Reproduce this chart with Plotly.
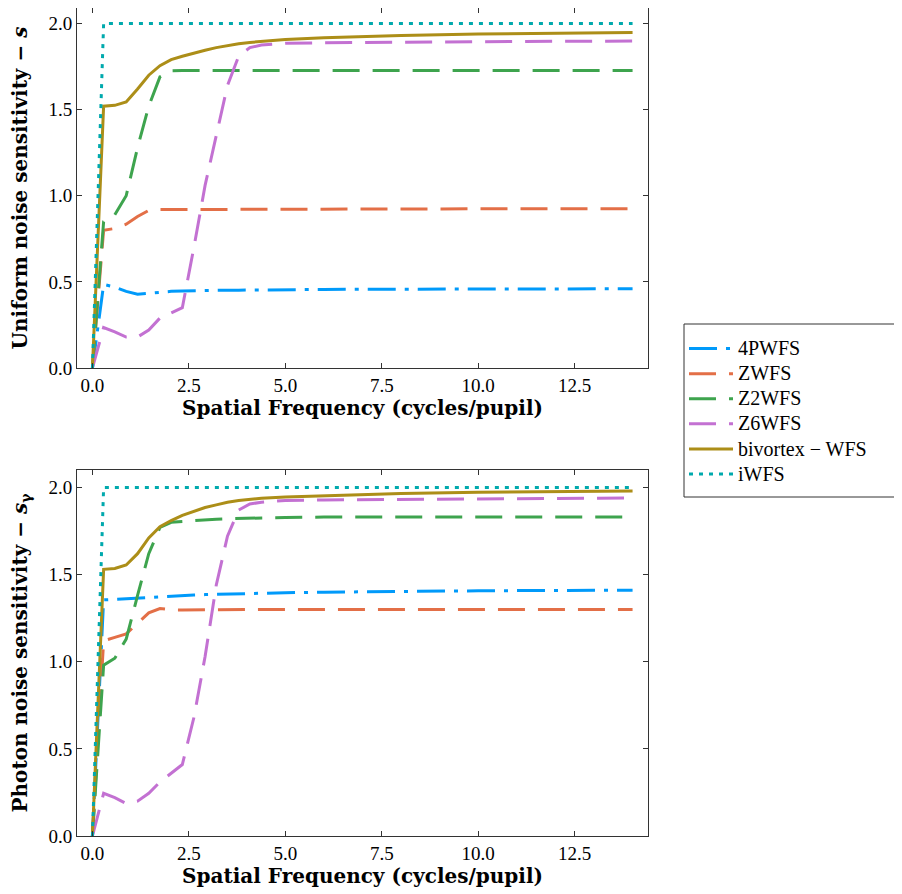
import plotly.graph_objects as go

# ---------------- data ----------------
freq = [0, 0.29, 0.58, 0.875, 1.17, 1.46, 1.75, 2.04, 2.33, 2.63, 2.92, 3.21, 3.5,
        3.79, 4.08, 4.38, 5.0, 6.0, 7.0, 8.0, 10.0, 12.0, 14.0]

series_names = ["4PWFS", "ZWFS", "Z2WFS", "Z6WFS", "bivortex − WFS", "iWFS"]

# Uniform noise sensitivity (top panel)
u_4p = [0, 0.485, 0.47, 0.445, 0.428, 0.435, 0.44, 0.445, 0.447, 0.449, 0.45, 0.451, 0.452,
        0.452, 0.453, 0.453, 0.455, 0.456, 0.457, 0.458, 0.459, 0.46, 0.46]
u_z = [0, 0.80, 0.81, 0.835, 0.88, 0.915, 0.92, 0.92, 0.92, 0.921, 0.921, 0.922, 0.922,
       0.922, 0.922, 0.923, 0.923, 0.923, 0.924, 0.924, 0.924, 0.925, 0.925]
u_z2 = [0, 0.85, 0.89, 1.0, 1.28, 1.52, 1.69, 1.725, 1.727, 1.727, 1.727, 1.727, 1.727,
        1.727, 1.727, 1.727, 1.727, 1.727, 1.727, 1.727, 1.727, 1.727, 1.727]
u_z6 = [0, 0.235, 0.21, 0.18, 0.18, 0.22, 0.29, 0.32, 0.35, 0.70, 1.06, 1.35, 1.64,
        1.81, 1.86, 1.875, 1.885, 1.888, 1.89, 1.892, 1.895, 1.897, 1.898]
u_bv = [0, 1.52, 1.525, 1.545, 1.62, 1.70, 1.755, 1.79, 1.81, 1.83, 1.845, 1.86, 1.872,
        1.882, 1.89, 1.896, 1.907, 1.918, 1.925, 1.931, 1.939, 1.944, 1.948]
u_i = [0, 2.0, 2.0, 2.0, 2.0, 2.0, 2.0, 2.0, 2.0, 2.0, 2.0, 2.0, 2.0,
       2.0, 2.0, 2.0, 2.0, 2.0, 2.0, 2.0, 2.0, 2.0, 2.0]

# Photon noise sensitivity (bottom panel)
p_4p = [0, 1.355, 1.358, 1.362, 1.366, 1.37, 1.375, 1.378, 1.381, 1.383, 1.385, 1.387, 1.389,
        1.39, 1.392, 1.393, 1.396, 1.399, 1.402, 1.404, 1.407, 1.409, 1.41]
p_z = [0, 1.12, 1.14, 1.16, 1.22, 1.28, 1.305, 1.298, 1.297, 1.298, 1.298, 1.299, 1.299,
       1.3, 1.3, 1.3, 1.3, 1.3, 1.3, 1.3, 1.3, 1.3, 1.3]
p_z2 = [0, 0.98, 1.02, 1.13, 1.38, 1.62, 1.77, 1.80, 1.805, 1.81, 1.815, 1.818, 1.82,
        1.822, 1.824, 1.826, 1.828, 1.83, 1.83, 1.83, 1.83, 1.83, 1.83]
p_z6 = [0, 0.245, 0.22, 0.186, 0.20, 0.245, 0.31, 0.36, 0.41, 0.68, 1.03, 1.44, 1.72,
        1.87, 1.905, 1.915, 1.925, 1.928, 1.93, 1.932, 1.935, 1.938, 1.94]
p_bv = [0, 1.53, 1.535, 1.555, 1.62, 1.71, 1.775, 1.81, 1.84, 1.865, 1.885, 1.90, 1.915,
        1.925, 1.932, 1.938, 1.945, 1.953, 1.96, 1.965, 1.972, 1.977, 1.98]
p_i = [0, 2.0, 2.0, 2.0, 2.0, 2.0, 2.0, 2.0, 2.0, 2.0, 2.0, 2.0, 2.0,
       2.0, 2.0, 2.0, 2.0, 2.0, 2.0, 2.0, 2.0, 2.0, 2.0]

x_tick_vals = [0, 2.5, 5, 7.5, 10, 12.5]
x_tick_text = ["0.0", "2.5", "5.0", "7.5", "10.0", "12.5"]
y_tick_vals = [0, 0.5, 1.0, 1.5, 2.0]
y_tick_text = ["0.0", "0.5", "1.0", "1.5", "2.0"]

# ---------------- styles ----------------
colors = ["#009AFA", "#E36F47", "#3EA44E", "#C371D2", "#AC8E18", "#00A9AD"]
dashes = ["28px,9px,4px,9px", "27px,13px", "27px,13px", "27px,13px", "solid", "4px,6px"]
LW = 3
FONT = "Liberation Serif"
TFONT = "DejaVu Serif"

# page body adds an 8px offset, so figure pixels = screen pixels - 8
W, H = 894, 886
L, R, T, B = 69, 640, 0, 828
top_axis_bottom = 360
bot_axis_top = 462

fig = go.Figure()

top = [u_4p, u_z, u_z2, u_z6, u_bv, u_i]
bot = [p_4p, p_z, p_z2, p_z6, p_bv, p_i]

for i, name in enumerate(series_names):
    fig.add_trace(go.Scatter(x=freq, y=top[i], mode="lines",
                             name='<span style="font-size:20px">' + name + '</span>',
                             line=dict(color=colors[i], width=LW, dash=dashes[i]),
                             xaxis="x", yaxis="y", showlegend=True))
for i, name in enumerate(series_names):
    fig.add_trace(go.Scatter(x=freq, y=bot[i], mode="lines", name=name,
                             line=dict(color=colors[i], width=LW, dash=dashes[i]),
                             xaxis="x2", yaxis="y2", showlegend=False))

ph = B - T
def py(p):
    return (B - p) / ph

def px(p):
    return (p - L) / (R - L)

axis_common = dict(showline=True, linecolor="#333333", linewidth=1, mirror="ticks",
                   ticks="inside", ticklen=5, tickcolor="#333333", showgrid=False,
                   zeroline=False, tickfont=dict(family=FONT, size=19, color="black"))

title_font = dict(family=TFONT, size=20, color="black", weight="bold")

fig.update_layout(
    width=W, height=H,
    margin=dict(l=L, r=W - R, t=T, b=H - B, autoexpand=False),
    paper_bgcolor="white", plot_bgcolor="white",
    xaxis=dict(domain=[0, 1], anchor="y", range=[-0.4, 14.4], tickvals=x_tick_vals,
               ticktext=x_tick_text,
               title=dict(text="Spatial Frequency (cycles/pupil)", font=title_font, standoff=5),
               **axis_common),
    yaxis=dict(domain=[py(top_axis_bottom), 1], anchor="x", range=[0, 2.09],
               tickvals=y_tick_vals, ticktext=y_tick_text,
               title=dict(text="Uniform noise sensitivity − <i>s</i>", font=title_font,
                          standoff=16),
               **axis_common),
    xaxis2=dict(domain=[0, 1], anchor="y2", range=[-0.4, 14.4], tickvals=x_tick_vals,
                ticktext=x_tick_text,
                title=dict(text="Spatial Frequency (cycles/pupil)", font=title_font, standoff=5),
                **axis_common),
    yaxis2=dict(domain=[0, py(bot_axis_top)], anchor="x2", range=[0, 2.1],
                tickvals=y_tick_vals, ticktext=y_tick_text,
                title=dict(text="Photon noise sensitivity − <i>s</i><sub>γ</sub>",
                           font=title_font, standoff=16),
                **axis_common),
    legend=dict(x=px(676), y=py(323), xanchor="left", yanchor="top",
                bgcolor="rgba(0,0,0,0)", borderwidth=0, itemwidth=44,
                font=dict(family=FONT, size=17, color="black"),
                tracegroupgap=0),
    shapes=[dict(type="rect", xref="paper", yref="paper",
                 x0=px(676), x1=px(904), y0=py(489), y1=py(316),
                 line=dict(color="#333333", width=1), fillcolor="rgba(0,0,0,0)")],
)

fig.write_html("out.html")
